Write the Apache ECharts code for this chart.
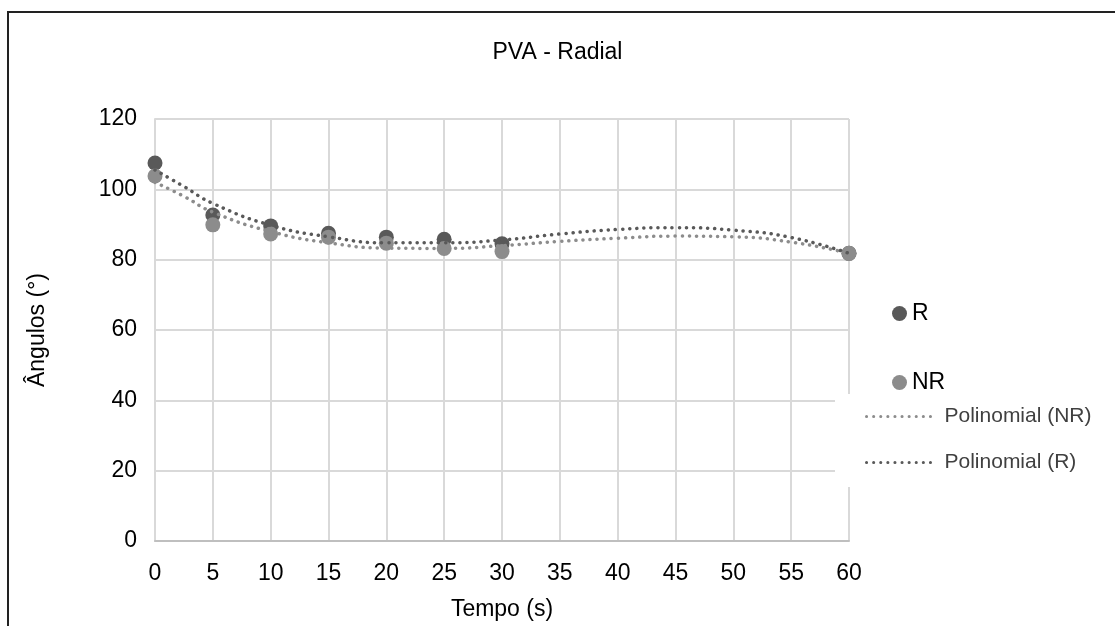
<!DOCTYPE html>
<html>
<head>
<meta charset="utf-8">
<script src="https://cdn.jsdelivr.net/npm/echarts@6/dist/echarts.min.js"></script>
<style>
  html, body { margin: 0; padding: 0; background: #fff; }
  #pvaChart { width: 1115px; height: 626px; }
</style>
</head>
<body>
<div id="pvaChart"></div>
<script>
// tempos medidos (s)
const tempos = [0, 5, 10, 15, 20, 25, 30, 60];
const anguloR = [107.5, 92.7, 89.6, 87.5, 86.4, 85.8, 84.5, 81.8];
const anguloNR = [103.8, 89.9, 87.3, 86.4, 84.7, 83.2, 82.3, 81.8];

const tempoTend = [0, 2.5, 5, 10, 15, 20, 25, 30, 35, 40, 45, 50, 55, 60];
const tendR = [105.5, 100.8, 96, 89.8, 86.5, 84.8, 84.8, 85.6, 87.3, 88.6, 89.1, 88.4, 86.3, 81.8];
const tendNR = [102, 98, 93.5, 88, 84.8, 83.3, 83.2, 84, 85.2, 86.1, 86.7, 86.5, 85, 81.8];

const xTicks = [0, 60, 5];
const yTicks = [0, 120, 20];

function loadPvaChart() {
    const chartDom = document.getElementById('pvaChart');
    const myChart = echarts.init(chartDom);

    const font = '"Liberation Sans", Arial, sans-serif';
    const pairs = (xs, ys) => xs.map((x, i) => [x, ys[i]]);
    const dotted = {
        width: 3.5,
        type: [0.1, 7],
        cap: 'round'
    };

    const option = {
        animation: false,
        textStyle: { fontFamily: font },
        graphic: [{
            type: 'rect',
            shape: { x: 8, y: 12, width: 1300, height: 800 },
            style: { fill: 'none', stroke: '#222', lineWidth: 2 },
            silent: true
        }],
        title: {
            text: 'PVA - Radial',
            left: 'center',
            top: 36,
            textStyle: { fontFamily: font, fontSize: 23, fontWeight: 'normal', color: '#000' }
        },
        legend: [{
            data: ['R', 'NR'],
            orient: 'vertical',
            left: 887,
            top: 297,
            itemGap: 46,
            itemWidth: 15,
            itemHeight: 15,
            icon: 'circle',
            textStyle: { fontFamily: font, fontSize: 23, color: '#000' }
        }, {
            data: ['Polinomial (NR)', 'Polinomial (R)'],
            orient: 'vertical',
            left: 835,
            top: 394,
            padding: [12, 20, 14, 30],
            backgroundColor: '#fff',
            itemGap: 25,
            itemWidth: 65,
            itemHeight: 10,
            itemStyle: { color: 'rgba(0,0,0,0)', borderWidth: 0, opacity: 0 },
            lineStyle: { width: 3, type: [0.1, 7], cap: 'round' },
            textStyle: { fontFamily: font, fontSize: 21, color: '#404040', padding: [0, 0, 0, 8] }
        }],
        grid: {
            left: 155,
            right: 266,
            top: 119,
            bottom: 85
        },
        xAxis: {
            type: 'value',
            min: xTicks[0],
            max: xTicks[1],
            interval: xTicks[2],
            name: 'Tempo (s)',
            nameLocation: 'middle',
            nameGap: 57,
            nameTextStyle: { fontFamily: font, fontSize: 23, color: '#000' },
            axisLine: { show: true, lineStyle: { color: '#bfbfbf', width: 2 } },
            axisTick: { show: false },
            axisLabel: { margin: 21, fontFamily: font, fontSize: 23, color: '#000' },
            splitLine: { show: true, lineStyle: { color: '#d9d9d9', width: 2 } }
        },
        yAxis: {
            type: 'value',
            min: yTicks[0],
            max: yTicks[1],
            interval: yTicks[2],
            name: 'Ângulos (°)',
            nameLocation: 'middle',
            nameGap: 106,
            nameTextStyle: { fontFamily: font, fontSize: 23, color: '#000' },
            axisLine: { show: true, lineStyle: { color: '#d9d9d9', width: 2 } },
            axisTick: { show: false },
            axisLabel: { margin: 18, fontFamily: font, fontSize: 23, color: '#000' },
            splitLine: { show: true, lineStyle: { color: '#d9d9d9', width: 2 } }
        },
        series: [
            {
                name: 'R',
                type: 'scatter',
                data: pairs(tempos, anguloR),
                symbolSize: 15,
                itemStyle: { color: '#595959', opacity: 1 },
                z: 2
            },
            {
                name: 'NR',
                type: 'scatter',
                data: pairs(tempos, anguloNR),
                symbolSize: 15,
                itemStyle: { color: '#8c8c8c', opacity: 1 },
                z: 3
            },
            {
                name: 'Polinomial (NR)',
                type: 'line',
                data: pairs(tempoTend, tendNR),
                smooth: true,
                symbol: 'none',
                lineStyle: Object.assign({ color: '#8c8c8c' }, dotted),
                itemStyle: { color: '#8c8c8c' },
                z: 4
            },
            {
                name: 'Polinomial (R)',
                type: 'line',
                data: pairs(tempoTend, tendR),
                smooth: true,
                symbol: 'none',
                lineStyle: Object.assign({ color: '#595959' }, dotted),
                itemStyle: { color: '#595959' },
                z: 5
            }
        ]
    };

    myChart.setOption(option);
}
loadPvaChart();
</script>
</body>
</html>
